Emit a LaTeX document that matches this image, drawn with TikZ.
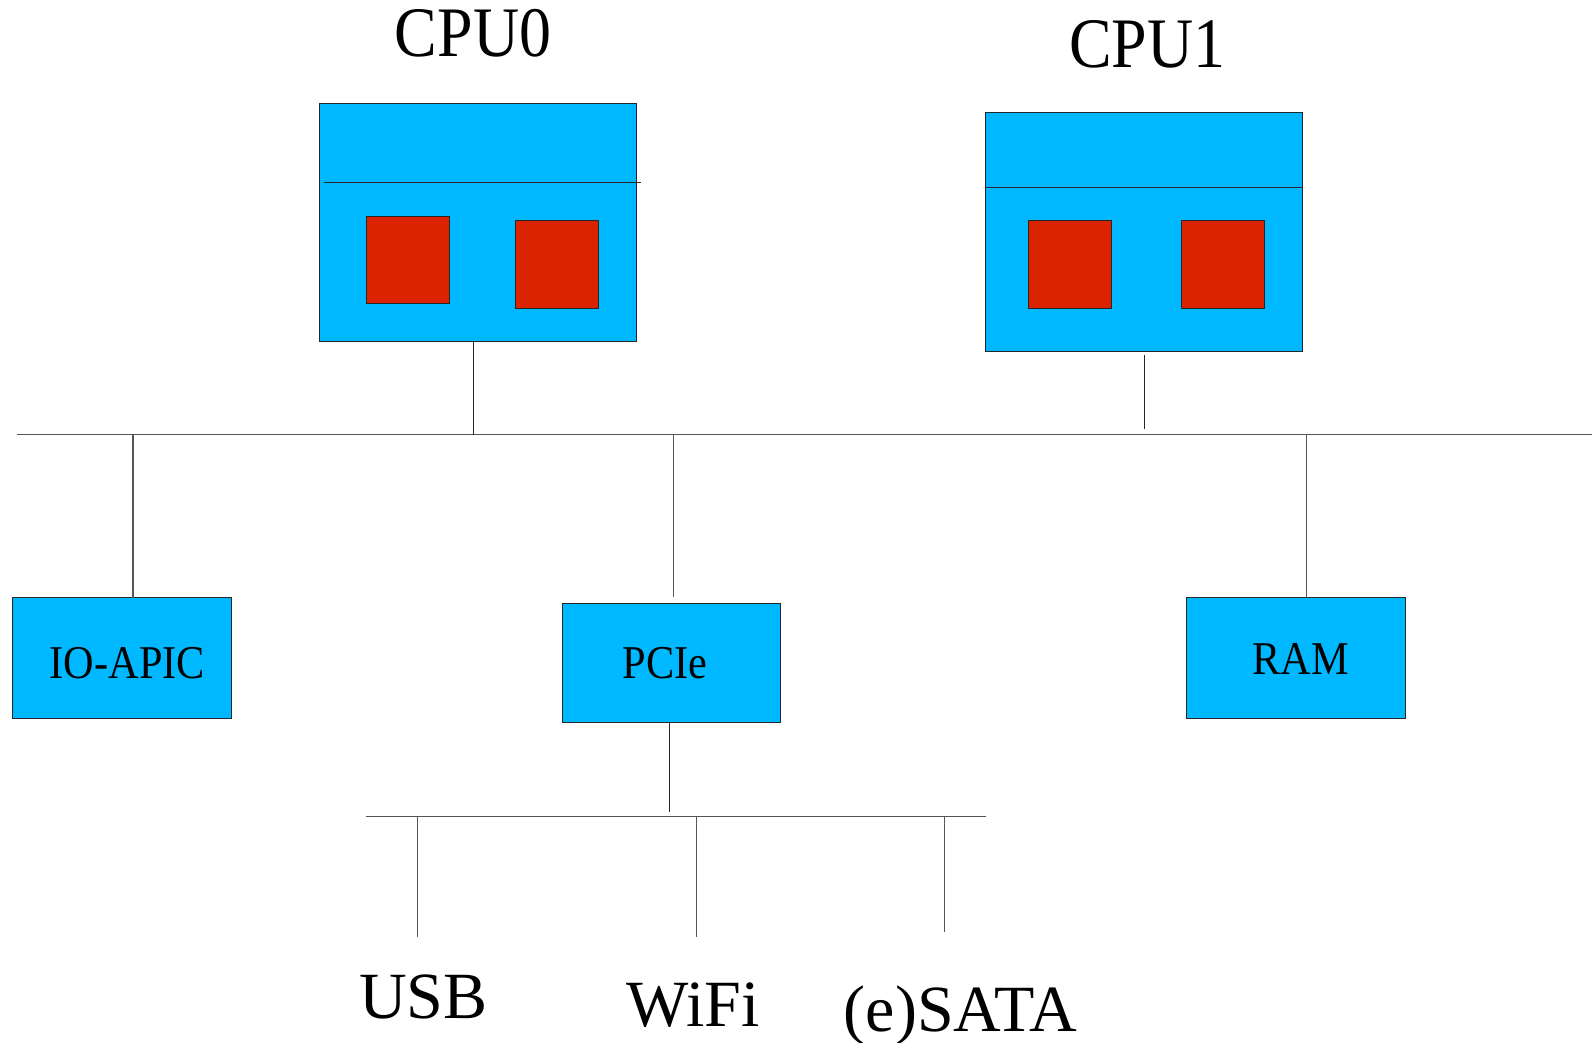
\documentclass[tikz,border=0pt]{standalone}
\usepackage{fontspec}
\setmainfont[FakeStretch=0.9]{Liberation Serif}
\newfontfamily\widefont{Liberation Serif}
\definecolor{sky}{HTML}{00B8FF}
\definecolor{chip}{HTML}{DC2300}
\definecolor{busgray}{HTML}{555555}
\begin{document}
\begin{tikzpicture}[x=1.0152pt,y=-1.0152pt,
  blk/.style={draw=black!85, fill=sky, line width=1pt, inner sep=0pt, outer sep=0pt, rectangle},
  core/.style={draw=black!85, fill=chip, line width=1pt, inner sep=0pt, outer sep=0pt, minimum width=83.2pt, minimum height=87.3pt, rectangle},
  lbl/.style={anchor=base, inner sep=0pt},
  devlbl/.style={lbl, font=\widefont\fontsize{66}{76}\selectfont},
  bus/.style={draw=busgray, line width=1.1pt},
  wire/.style={draw=black!85, line width=1pt}]
\useasboundingbox (0,0) rectangle (1568.2,1027.4);
% CPU boxes
\node[blk, minimum width=316.7pt, minimum height=237.6pt] (cpu0) at (471,219) {};
\node[blk, minimum width=316.7pt, minimum height=238.6pt] (cpu1) at (1127,228.5) {};
\coordinate (d0a) at (319,180); \coordinate (d0b) at (631,180);
\draw[wire] (d0a) -- (d0b);
\coordinate (d1a) at (971,185); \coordinate (d1b) at (1283,185);
\draw[wire] (d1a) -- (d1b);
\node[core] (c00) at (402,256) {};
\node[core, minimum height=88.3pt] (c01) at (549,260.5) {};
\node[core, minimum height=88.3pt] (c10) at (1054,260.5) {};
\node[core, minimum height=88.3pt] (c11) at (1205,260.5) {};
\node[lbl, font=\fontsize{71}{80}\selectfont] (cpu0lbl) at (466,56) {CPU0};
\node[lbl, font=\fontsize{71}{80}\selectfont] (cpu1lbl) at (1130,66) {CPU1};
% main bus
\coordinate (busL) at (17,428); \coordinate (busR) at (1568,428);
\draw[bus] (busL) -- (busR);
\coordinate (b0) at (466,428);
\coordinate (b1top) at (1127,350); \coordinate (b1) at (1127,423);
\draw[wire] (cpu0.south -| b0) -- (b0);
\draw[wire] (b1top) -- (b1);
% devices
\node[blk, minimum width=219.3pt, minimum height=120.8pt] (ioapic) at (120,648.5) {};
\node[blk, minimum width=218.3pt, minimum height=119.8pt] (pcie) at (661.5,653) {};
\node[blk, minimum width=218.3pt, minimum height=120.8pt] (ram) at (1276.5,648.5) {};
\node[lbl, font=\fontsize{47}{54}\selectfont] (ioapiclbl) at (125.5,668) {IO-APIC};
\node[lbl, font=\fontsize{47}{54}\selectfont] (pcielbl) at (655,668) {PCIe};
\node[lbl, font=\fontsize{47}{54}\selectfont] (ramlbl) at (1281,664) {RAM};
\coordinate (bi) at (131,428);
\coordinate (bp) at (663,428); \coordinate (bpe) at (663,588);
\coordinate (br) at (1287,428);
\draw[bus] (bi) -- (bi |- ioapic.north);
\draw[bus] (bp) -- (bpe);
\draw[bus] (br) -- (br |- ram.north);
% sub bus
\coordinate (sbL) at (361,804); \coordinate (sbR) at (971,804);
\coordinate (pd) at (659,800);
\draw[wire] (pcie.south -| pd) -- (pd);
\draw[bus] (sbL) -- (sbR);
\coordinate (u0) at (411,804); \coordinate (u1) at (411,923);
\coordinate (w0) at (686,804); \coordinate (w1) at (686,923);
\coordinate (s0) at (930,804); \coordinate (s1) at (930,918);
\draw[bus] (u0) -- (u1);
\draw[bus] (w0) -- (w1);
\draw[bus] (s0) -- (s1);
\node[devlbl] (usb) at (417,1003) {USB};
\node[devlbl] (wifi) at (683,1011) {WiFi};
\node[devlbl] (sata) at (946,1016) {(e)SATA};
\end{tikzpicture}
\end{document}
